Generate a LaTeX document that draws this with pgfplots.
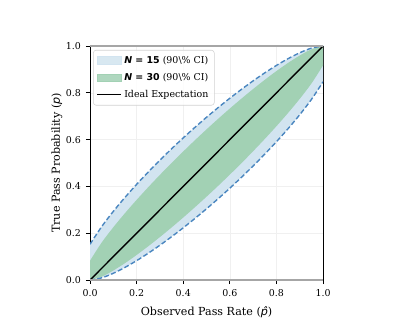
\documentclass[border=0pt]{standalone}
\usepackage{fontspec}
\setmainfont{DejaVu Serif}
\newfontfamily\dvs{DejaVu Sans}
\usepackage{pgfplots}
\usepackage{pgfplotstable}
\pgfplotsset{compat=1.18}
\usepgfplotslibrary{fillbetween}

\definecolor{bandA}{RGB}{210,228,240}
\definecolor{bandB}{RGB}{162,209,180}
\definecolor{edgeA}{RGB}{74,134,192}

% Wilson 90% bounds (p-hat, upper/lower for N=15 and N=30)
\pgfplotstableread{
p     u15    l15    u30    l30
0.00  0.1528 0.0000 0.0827 0.0000
0.05  0.2282 0.0093 0.1601 0.0143
0.10  0.2934 0.0289 0.2255 0.0407
0.15  0.3530 0.0540 0.2857 0.0722
0.20  0.4088 0.0829 0.3425 0.1071
0.25  0.4617 0.1147 0.3969 0.1444
0.30  0.5123 0.1488 0.4494 0.1837
0.35  0.5608 0.1851 0.5002 0.2247
0.40  0.6074 0.2232 0.5494 0.2671
0.45  0.6523 0.2630 0.5973 0.3110
0.50  0.6955 0.3045 0.6438 0.3562
0.55  0.7370 0.3477 0.6890 0.4027
0.60  0.7768 0.3926 0.7329 0.4506
0.65  0.8149 0.4392 0.7753 0.4998
0.70  0.8512 0.4877 0.8163 0.5506
0.75  0.8853 0.5383 0.8556 0.6031
0.80  0.9171 0.5912 0.8929 0.6575
0.85  0.9460 0.6470 0.9278 0.7143
0.90  0.9711 0.7066 0.9593 0.7745
0.95  0.9907 0.7718 0.9857 0.8399
1.00  1.0000 0.8472 1.0000 0.9173
}\bands

\begin{document}
\begin{tikzpicture}
\path (-64.8pt,-36.7pt) rectangle (221pt,201.6pt);
\begin{axis}[
    at={(0pt,0pt)}, anchor=south west,
    scale only axis,
    width=167.8pt, height=168.5pt,
    xmin=0, xmax=1, ymin=0, ymax=1,
    xtick={0,0.2,...,1.0}, ytick={0,0.2,...,1.0},
    tick pos=left, tick align=outside,
    major tick length=3pt,
    tick style={black, line width=0.6pt},
    axis line style={black, line width=0.6pt},
    grid=major,
    grid style={gray!12, line width=0.4pt},
    ticklabel style={font=\fontsize{6.8}{8}\selectfont},
    /pgf/number format/.cd, fixed, fixed zerofill, precision=1, assume math mode=true,
    /pgfplots/.cd,
    xlabel={Observed Pass Rate ({\dvs\itshape\^p})},
    ylabel={True Pass Probability ({\dvs\itshape p})},
    label style={font=\fontsize{8}{10}\selectfont},
    xlabel style={at={(axis description cs:0.5,-0.137)}, anchor=center},
    ylabel style={at={(axis description cs:-0.142,0.5)}, anchor=center},
    legend style={at={(0.013,0.983)}, anchor=north west,
        font=\fontsize{6.8}{8}\selectfont,
        draw=gray!35, rounded corners=2pt, fill=white, fill opacity=0.85, text opacity=1,
        row sep=1.6pt, inner sep=2.2pt},
    legend image post style={sharp corners},
    legend cell align=left,
]
\addplot[name path=u15, draw=none, forget plot, smooth] table[x=p,y=u15]{\bands};
\addplot[name path=l15, draw=none, forget plot, smooth] table[x=p,y=l15]{\bands};
\addplot[name path=u30, draw=none, forget plot, smooth] table[x=p,y=u30]{\bands};
\addplot[name path=l30, draw=none, forget plot, smooth] table[x=p,y=l30]{\bands};
\addplot[fill=bandA, draw=none, forget plot] fill between[of=u15 and l15];
\addplot[fill=bandB, draw=none, forget plot] fill between[of=u30 and l30];
\addplot[edgeA, line width=1pt, dash pattern=on 3.5pt off 1.8pt, smooth, forget plot] table[x=p,y=u15]{\bands};
\addplot[edgeA, line width=1pt, dash pattern=on 3.5pt off 1.8pt, smooth, forget plot] table[x=p,y=l15]{\bands};
\addplot[black, line width=1pt, forget plot] coordinates {(0,0) (1,1)};
\draw[gray!70, line width=1.3pt] (rel axis cs:0,0) -- (rel axis cs:1,0);
\draw[gray!70, line width=1.3pt] (rel axis cs:0,1) -- (rel axis cs:1,1);
\addlegendimage{area legend, fill=bandA, draw=bandA}
\addlegendentry{{\dvs\bfseries{\itshape N} = 15} (90\textbackslash\% CI)}
\addlegendimage{area legend, fill=bandB, draw=bandB}
\addlegendentry{{\dvs\bfseries{\itshape N} = 30} (90\textbackslash\% CI)}
\addlegendimage{black, line width=1pt}
\addlegendentry{Ideal Expectation}
\node[font=\fontsize{10}{11.5}\selectfont\bfseries, align=center] at (rel axis cs:0.5,1) [yshift=16.6pt] {Wilson Score Interval Uncertainty\\(Cost vs. Precision Trade-off)};
\end{axis}
\end{tikzpicture}
\end{document}
